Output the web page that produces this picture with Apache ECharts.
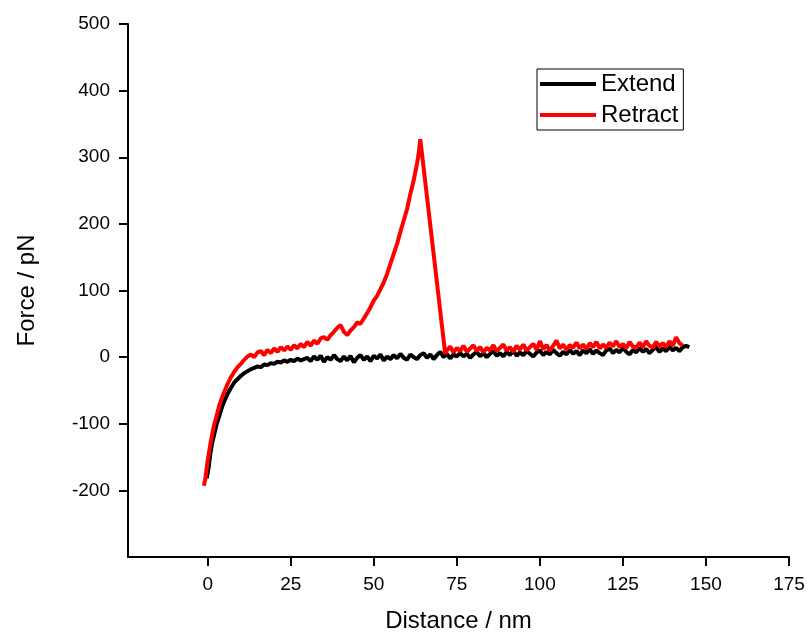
<!DOCTYPE html>
<html lang="en">
<head>
    <meta charset="UTF-8">
    <title>Force curve</title>
    <script src="https://cdn.jsdelivr.net/npm/echarts@6/dist/echarts.min.js"></script>
    <style>
        * {
            margin: 0;
            padding: 0;
        }

        body {
            background: #fff;
        }

        #chart {
            width: 808px;
            height: 632px;
        }
    </style>
</head>
<body>
<div id="chart"></div>

<script>
    // 数据
    var extendDistance = [-0.3, 0.3, 0.8, 1.3, 2, 2.7, 3.5, 4.3, 5, 6, 7, 8, 9, 10, 11, 12, 13, 14, 15, 16, 17, 18, 19, 20,
        21, 22, 23, 24, 25, 26, 27, 28, 29, 30, 31, 32, 33, 34, 35, 36, 37, 38, 39, 40, 41, 42, 43, 44, 45, 46, 47, 48, 49, 50,
        51, 52, 53, 54, 55, 56, 57, 58, 59, 60, 61, 62, 63, 64, 65, 66, 67, 68, 69, 70, 71, 72, 73, 74, 75,
        76, 77, 78, 79, 80, 81, 82, 83, 84, 85, 86, 87, 88, 89, 90, 91, 92, 93, 94, 95, 96, 97, 98, 99, 100,
        101, 102, 103, 104, 105, 106, 107, 108, 109, 110, 111, 112, 113, 114, 115, 116, 117, 118, 119, 120,
        121, 122, 123, 124, 125, 126, 127, 128, 129, 130, 131, 132, 133, 134, 135, 136, 137, 138, 139, 140,
        141, 142, 143, 144, 145];
    var extendForce = [-182, -165, -145, -130, -115, -100, -88, -75, -66, -55, -46, -38, -33, -28, -24, -21, -18, -16, -14, -15, -11, -12, -9, -10,
        -7, -8, -5, -7, -4, -6, -2, -5, -3, -1,
        -6, 1, -4, 2, -7, 0, -4, 3, -3, -6, 1, -5, 2, -8, -1, 3, -4, 1, -6, 2,
        -2, 4, -5, 1, -3, 3, -2, 5, -1, -4, 4, 0, -3, 3, 6, -1, 4, -3, 3, 8, 0, 5, -2, 4, 1,
        6, 1, 5, -1, 4, 8, 1, 6, 0, 5, 9, 2, 6, 1, 8, 3, 10, 2, 7, 3, 9, 5, 1, 7, 10,
        3, 8, 4, 11, 6, 2, 8, 4, 11, 5, 9, 3, 10, 6, 12, 5, 10, 6, 3, 10,
        13, 6, 11, 7, 14, 8, 4, 11, 7, 14, 8, 12, 6, 11, 15, 8, 13, 9, 16, 10,
        14, 9, 15, 17, 15];

    var retractDistance = [-1.2, -0.8, -0.4, 0, 0.5, 1, 1.5, 2, 2.5, 3, 3.5, 4, 5, 6, 7, 8, 9, 10,
        11, 12, 13, 14, 15, 16, 17, 18, 19, 20, 21, 22, 23, 24, 25, 26, 27, 28, 29, 30,
        31, 32, 33, 34, 35, 36, 37, 38, 39, 40, 41, 42, 43, 44, 45, 46, 47, 48, 49, 50,
        51, 52, 53, 54, 55, 56, 57, 58, 59, 60, 61, 62, 63, 63.5, 64, 71.5,
        72, 73, 74, 75, 76, 77, 78, 79, 80, 81, 82, 83, 84, 85, 86, 87, 88, 89, 90,
        91, 92, 93, 94, 95, 96, 97, 98, 99, 100, 101, 102, 103, 104, 105, 106, 107, 108, 109, 110,
        111, 112, 113, 114, 115, 116, 117, 118, 119, 120, 121, 122, 123, 124, 125, 126, 127, 128, 129, 130,
        131, 132, 133, 134, 135, 136, 137, 138, 139, 140, 141, 142, 143];
    var retractForce = [-193, -185, -170, -155, -140, -125, -112, -100, -92, -82, -72, -65, -52, -40, -30, -22, -15, -10,
        -4, 1, 4, 0, 7, 9, 3, 11, 6, 13, 8, 15, 10, 16, 11, 18, 13, 20, 15, 23,
        17, 25, 20, 28, 30, 26, 33, 38, 44, 48, 38, 33, 40, 45, 52, 50, 58, 66, 75, 85,
        92, 102, 112, 125, 140, 155, 170, 188, 205, 222, 245, 265, 290, 305, 327, 5,
        10, 16, 7, 14, 9, 17, 8, 13, 18, 9, 15, 7, 14, 10, 18, 9, 14, 19, 10,
        15, 8, 17, 11, 19, 10, 15, 20, 11, 24, 12, 18, 10, 17, 25, 13, 19, 11, 18, 14,
        22, 13, 19, 12, 21, 15, 23, 13, 19, 14, 22, 16, 24, 15, 20, 13, 23, 16, 14, 22,
        15, 24, 17, 14, 23, 16, 21, 15, 24, 17, 30, 21, 17];

    var xTicks = [0, 25, 50, 75, 100, 125, 150, 175];
    var yTicks = [-200, -100, 0, 100, 200, 300, 400, 500];

    function zip(xs, ys) {
        return xs.map(function (x, i) {
            return [x, ys[i]];
        });
    }

    var font = 'Arial, "Liberation Sans", sans-serif';
    var chart = echarts.init(document.getElementById('chart'));
    var option = {
        animation: false,
        backgroundColor: '#fff',
        grid: {
            left: 128,
            right: 19,
            top: 24,
            bottom: 75,
            outerBoundsMode: 'none'
        },
        legend: {
            left: 537,
            top: 69,
            orient: 'vertical',
            icon: 'rect',
            itemWidth: 56,
            itemHeight: 4,
            itemGap: 7,
            padding: [3, 5, 3, 3],
            borderColor: '#000',
            borderWidth: 1,
            textStyle: {
                fontFamily: font,
                fontSize: 24,
                lineHeight: 24,
                color: '#000'
            },
            data: ['Extend', 'Retract']
        },
        xAxis: {
            type: 'value',
            min: -24,
            max: 175,
            name: 'Distance / nm',
            nameLocation: 'middle',
            nameGap: 52,
            nameTextStyle: {
                fontFamily: font,
                fontSize: 24,
                color: '#000'
            },
            axisLine: {
                onZero: false,
                lineStyle: {color: '#000', width: 2}
            },
            axisTick: {
                customValues: xTicks,
                length: 9,
                lineStyle: {color: '#000', width: 2}
            },
            axisLabel: {
                customValues: xTicks,
                margin: 18,
                fontFamily: font,
                fontSize: 19,
                color: '#000'
            },
            splitLine: {show: false}
        },
        yAxis: {
            type: 'value',
            min: -300,
            max: 500,
            interval: 100,
            name: 'Force / pN',
            nameLocation: 'middle',
            nameGap: 89,
            nameTextStyle: {
                fontFamily: font,
                fontSize: 24,
                color: '#000'
            },
            axisLine: {
                show: true,
                onZero: false,
                lineStyle: {color: '#000', width: 2}
            },
            axisTick: {
                show: true,
                customValues: yTicks,
                length: 9,
                lineStyle: {color: '#000', width: 2}
            },
            axisLabel: {
                customValues: yTicks,
                margin: 18,
                fontFamily: font,
                fontSize: 19,
                color: '#000'
            },
            splitLine: {show: false}
        },
        series: [
            {
                name: 'Extend',
                type: 'line',
                showSymbol: false,
                color: '#000',
                lineStyle: {width: 4, color: '#000'},
                data: zip(extendDistance, extendForce)
            },
            {
                name: 'Retract',
                type: 'line',
                showSymbol: false,
                color: '#ff0000',
                lineStyle: {width: 4, color: '#ff0000'},
                data: zip(retractDistance, retractForce)
            }
        ]
    };
    chart.setOption(option);
</script>

</body>
</html>
